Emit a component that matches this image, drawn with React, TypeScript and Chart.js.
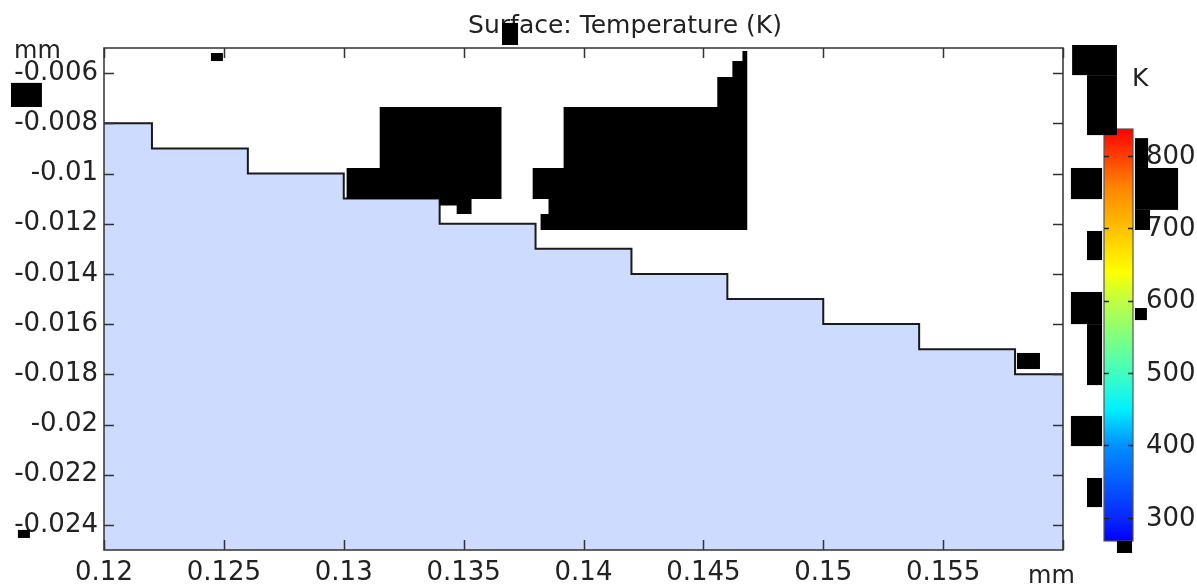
import React, { useEffect, useRef } from "react";
import { Chart, registerables } from "chart.js";

Chart.register(...registerables);

// ---- data ----
const xTicks = [0.12, 0.125, 0.13, 0.135, 0.14, 0.145, 0.15, 0.155, 0.16];
const xTickLabels = ["0.12", "0.125", "0.13", "0.135", "0.14", "0.145", "0.15", "0.155", ""];
const yTicks = [-0.006, -0.008, -0.01, -0.012, -0.014, -0.016, -0.018, -0.02, -0.022, -0.024];
const yTickLabels = ["-0.006", "-0.008", "-0.01", "-0.012", "-0.014", "-0.016", "-0.018", "-0.02", "-0.022", "-0.024"];

// stepped surface profile (mm)
const surfaceX = [0.12, 0.122, 0.126, 0.13, 0.134, 0.138, 0.142, 0.146, 0.15, 0.154, 0.158, 0.16];
const surfaceY = [-0.008, -0.009, -0.01, -0.011, -0.012, -0.013, -0.014, -0.015, -0.016, -0.017, -0.018, -0.018];

// dark rendering regions (mm)
const maskAX = [0.1315, 0.13658, 0.13658, 0.13533, 0.13533, 0.13471, 0.13471, 0.134, 0.134, 0.13012, 0.13012, 0.1315];
const maskAY = [-0.00735, -0.00735, -0.01102, -0.01102, -0.01161, -0.01161, -0.01127, -0.01127, -0.01102, -0.01102, -0.00978, -0.00978];
const maskBX = [0.14663, 0.14683, 0.14683, 0.13821, 0.13821, 0.13854, 0.13854, 0.13788, 0.13788, 0.13917, 0.13917, 0.14558, 0.14558, 0.14621, 0.14621, 0.14663];
const maskBY = [-0.00512, -0.00512, -0.01225, -0.01225, -0.01161, -0.01161, -0.01102, -0.01102, -0.00978, -0.00978, -0.00735, -0.00735, -0.00616, -0.00616, -0.00552, -0.00552];
// small dark patches [x0, x1, y0, y1] (mm)
const patchX0 = [0.16038, 0.161, 0.16033, 0.163, 0.163, 0.163, 0.161, 0.16033, 0.161, 0.16033, 0.161, 0.16225, 0.163, 0.11612, 0.12446, 0.1366, 0.15808, 0.11641];
const patchX1 = [0.16225, 0.16225, 0.16163, 0.16355, 0.1648, 0.16363, 0.16163, 0.16163, 0.16163, 0.16163, 0.16163, 0.16288, 0.1635, 0.11741, 0.12496, 0.13727, 0.15904, 0.11691];
const patchY0 = [-0.00488, -0.00608, -0.00978, -0.00859, -0.00978, -0.01145, -0.01229, -0.01472, -0.016, -0.01966, -0.02213, -0.02464, -0.01536, -0.00639, -0.0052, -0.004, -0.01715, -0.0242];
const patchY1 = [-0.00608, -0.00847, -0.01102, -0.00978, -0.01145, -0.01225, -0.01345, -0.016, -0.01843, -0.02086, -0.02329, -0.02512, -0.01584, -0.00735, -0.00552, -0.00488, -0.01779, -0.02452];

const xRange = [0.12, 0.16];
const yRange = [-0.025, -0.005];

const titleText = "Surface: Temperature (K)";
const xUnit = "mm";
const yUnit = "mm";
const colorUnit = "K";
const colorbarTicks = [300, 400, 500, 600, 700, 800];
const colorbarRange = [268, 837];
const colorStops: [number, string][] = [
  [268, "#0000ff"],
  [300, "#0828ff"],
  [400, "#0090ff"],
  [450, "#00f0ff"],
  [500, "#40ffc0"],
  [550, "#80ff80"],
  [600, "#c0ff40"],
  [640, "#ffff00"],
  [700, "#ffc000"],
  [760, "#ff8000"],
  [837, "#ff0000"],
];

const FONT = "DejaVu Sans";
const TEXT = "#222";
const FRAME = "#333";

const toPts = (xs: number[], ys: number[]) => xs.map((x, i) => ({ x, y: ys[i] }));

const decorPlugin = {
  id: "decor",
  afterDraw(chart: any) {
    const { ctx, chartArea, scales } = chart;
    const { left, right, top, bottom } = chartArea;
    ctx.save();
    // frame
    ctx.strokeStyle = FRAME;
    ctx.lineWidth = 1.5;
    ctx.strokeRect(left, top, right - left, bottom - top);
    // inward ticks
    const tl = 10;
    ctx.beginPath();
    for (const v of xTicks) {
      const px = Math.round(scales.x.getPixelForValue(v)) + 0.5;
      ctx.moveTo(px, bottom);
      ctx.lineTo(px, bottom - tl);
      ctx.moveTo(px, top);
      ctx.lineTo(px, top + tl);
    }
    for (const v of yTicks) {
      const py = Math.round(scales.y.getPixelForValue(v)) + 0.5;
      ctx.moveTo(left, py);
      ctx.lineTo(left + tl, py);
      ctx.moveTo(right, py);
      ctx.lineTo(right - tl, py);
    }
    ctx.stroke();

    // title
    ctx.fillStyle = TEXT;
    ctx.font = `25px "${FONT}"`;
    ctx.textAlign = "center";
    ctx.textBaseline = "alphabetic";
    ctx.fillText(titleText, 625, 33);

    // unit labels
    ctx.font = `24px "${FONT}"`;
    ctx.textAlign = "left";
    ctx.fillText(yUnit, 14, 58);
    ctx.fillText(xUnit, 1028, 583);

    // colorbar
    const cbL = 1104, cbR = 1133, cbT = 129, cbB = 541;
    const vToY = (v: number) => cbB - ((v - colorbarRange[0]) / (colorbarRange[1] - colorbarRange[0])) * (cbB - cbT);
    const grad = ctx.createLinearGradient(0, cbB, 0, cbT);
    for (const [v, c] of colorStops) {
      grad.addColorStop((v - colorbarRange[0]) / (colorbarRange[1] - colorbarRange[0]), c);
    }
    ctx.fillStyle = grad;
    ctx.fillRect(cbL, cbT, cbR - cbL, cbB - cbT);
    ctx.strokeStyle = "#555";
    ctx.lineWidth = 1.2;
    ctx.strokeRect(cbL, cbT, cbR - cbL, cbB - cbT);
    ctx.beginPath();
    ctx.strokeStyle = "#222";
    ctx.lineWidth = 1.5;
    for (const v of colorbarTicks) {
      const py = Math.round(vToY(v)) + 0.5;
      ctx.moveTo(cbL, py);
      ctx.lineTo(cbL + 5, py);
      ctx.moveTo(cbR, py);
      ctx.lineTo(cbR - 5, py);
    }
    ctx.stroke();
    ctx.fillStyle = TEXT;
    ctx.font = `26px "${FONT}"`;
    ctx.textAlign = "left";
    ctx.textBaseline = "middle";
    for (const v of colorbarTicks) {
      ctx.fillText(String(v), 1146, vToY(v) + 1);
    }
    ctx.font = `25px "${FONT}"`;
    ctx.textBaseline = "alphabetic";
    ctx.fillText(colorUnit, 1132, 86);

    // small dark patches, positioned through the scales
    ctx.fillStyle = "#000";
    for (let i = 0; i < patchX0.length; i++) {
      const x0 = scales.x.getPixelForValue(patchX0[i]);
      const x1 = scales.x.getPixelForValue(patchX1[i]);
      const y0 = scales.y.getPixelForValue(patchY0[i]);
      const y1 = scales.y.getPixelForValue(patchY1[i]);
      ctx.fillRect(Math.min(x0, x1), Math.min(y0, y1), Math.abs(x1 - x0), Math.abs(y1 - y0));
    }
    ctx.restore();
  },
};

export default function App() {
  const ref = useRef<HTMLCanvasElement | null>(null);
  useEffect(() => {
    if (!ref.current) return;
    const chart = new Chart(ref.current, {
      type: "scatter",
      data: {
        datasets: [
          {
            data: toPts(surfaceX, surfaceY),
            showLine: true,
            stepped: "before",
            fill: "start",
            backgroundColor: "rgb(204,219,255)",
            borderColor: "#1a1a1a",
            borderWidth: 2,
            pointRadius: 0,
            order: 2,
          } as any,
          {
            data: toPts(maskAX, maskAY),
            showLine: true,
            fill: "shape",
            backgroundColor: "#000",
            borderColor: "#000",
            borderWidth: 0,
            pointRadius: 0,
            order: 1,
          } as any,
          {
            data: toPts(maskBX, maskBY),
            showLine: true,
            fill: "shape",
            backgroundColor: "#000",
            borderColor: "#000",
            borderWidth: 0,
            pointRadius: 0,
            order: 1,
          } as any,
        ],
      },
      options: {
        animation: false,
        responsive: false,
        devicePixelRatio: 1,
        layout: { padding: { top: 48, right: 134, left: 0, bottom: 0 } },
        plugins: { legend: { display: false }, tooltip: { enabled: false }, title: { display: false } },
        scales: {
          x: {
            type: "linear",
            min: xRange[0],
            max: xRange[1],
            grid: { display: false, drawTicks: false },
            border: { display: false },
            afterBuildTicks: (s: any) => {
              s.ticks = xTicks.map((v) => ({ value: v }));
            },
            afterFit: (s: any) => {
              s.height = 38;
            },
            ticks: {
              autoSkip: false,
              maxRotation: 0,
              padding: 8,
              color: TEXT,
              font: { family: FONT, size: 26 },
              callback: (_v: any, i: number) => xTickLabels[i],
            },
          },
          y: {
            type: "linear",
            min: yRange[0],
            max: yRange[1],
            grid: { display: false, drawTicks: false },
            border: { display: false },
            afterBuildTicks: (s: any) => {
              s.ticks = yTicks.map((v) => ({ value: v }));
            },
            afterFit: (s: any) => {
              s.width = 104;
            },
            ticks: {
              autoSkip: false,
              padding: 6,
              color: TEXT,
              font: { family: FONT, size: 26 },
              callback: (_v: any, i: number) => yTickLabels[i],
            },
          },
        },
      },
      plugins: [decorPlugin],
    });
    return () => chart.destroy();
  }, []);
  return (
    <div style={{ position: "fixed", left: 0, top: 0, width: 1197, height: 588, background: "#fff" }}>
      <canvas ref={ref} width={1197} height={588} style={{ display: "block" }} />
    </div>
  );
}
